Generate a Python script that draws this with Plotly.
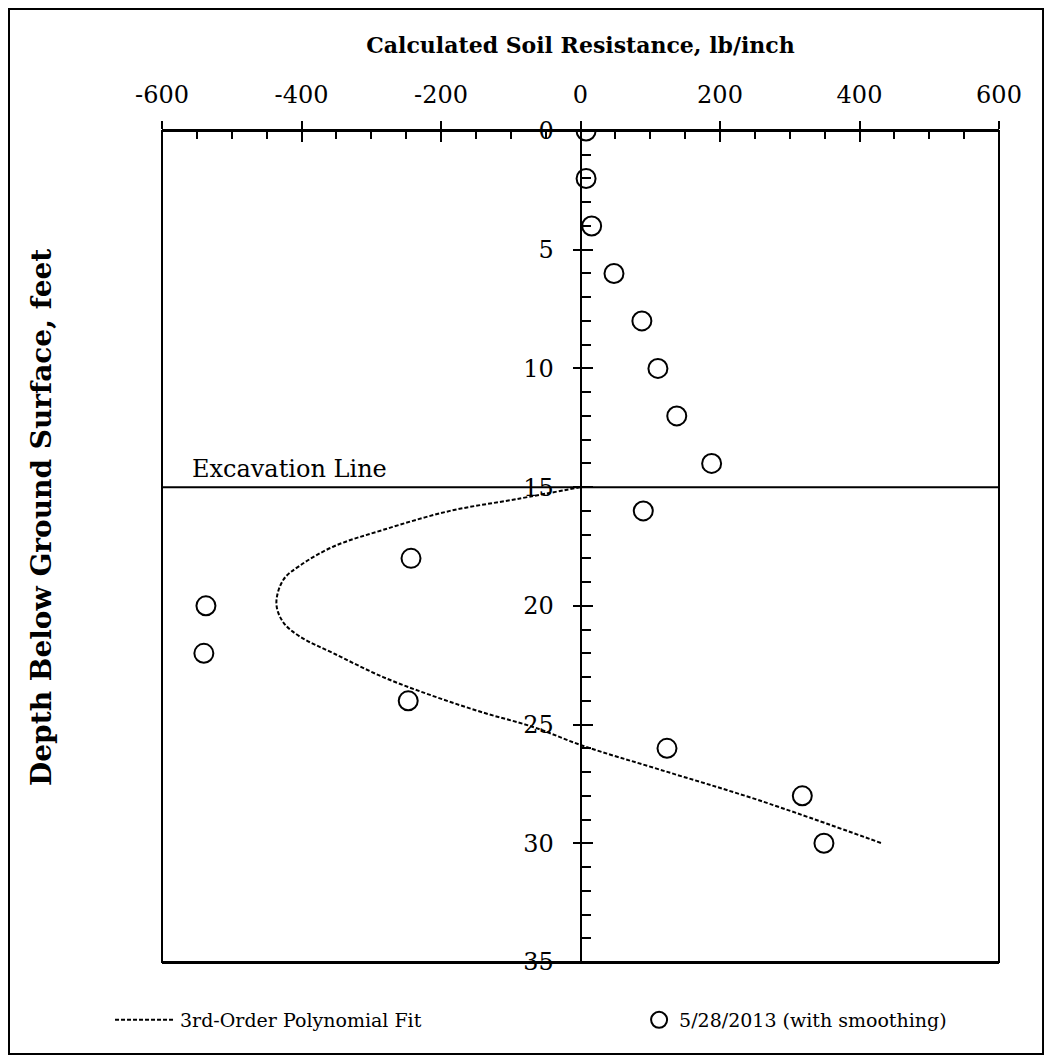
import plotly.graph_objects as go

# Measured points (5/28/2013, with smoothing)
DEPTH_FT = [0, 2, 4, 6, 8, 10, 12, 14, 16, 18, 20, 22, 24, 26, 28, 30]
RESISTANCE = [8, 8, 16, 48, 88, 111, 138, 188, 90, -243, -537, -540, -247, 124, 318, 349]

# 3rd-order polynomial fit
FIT_DEPTH = [15.0, 15.5, 16.0, 16.8, 17.5, 18.3, 18.9, 19.9, 20.7, 21.3, 22.0,
             23.0, 23.8, 24.5, 25.1, 25.9, 26.9, 28.2, 30.0]
FIT_RESISTANCE = [0, -91, -187, -283, -354, -402, -426, -436, -426, -402, -354,
                  -283, -211, -139, -68, 4, 114, 257, 432]

EXCAVATION_DEPTH = 15
X_RANGE = [-600, 600]
X_MAJOR = [-600, -400, -200, 0, 200, 400, 600]
X_TICK_LABELS = ["-600", "-400", "-200", "0", "200", "400", "600"]
Y_RANGE = [35, 0]
Y_MAJOR = [0, 5, 10, 15, 20, 25, 30, 35]

FONT = "DejaVu Serif, serif"
INK = "black"

fig = go.Figure()

fig.add_trace(go.Scatter(
    x=FIT_RESISTANCE, y=FIT_DEPTH,
    mode="lines",
    line=dict(color=INK, width=2, dash="4px,2px", shape="spline"),
    name="3rd-Order Polynomial Fit",
    legend="legend",
))
fig.add_trace(go.Scatter(
    x=RESISTANCE, y=DEPTH_FT,
    mode="markers",
    marker=dict(symbol="circle-open", size=19, color=INK, line=dict(width=2, color=INK)),
    name="5/28/2013 (with smoothing)",
    legend="legend2",
))
# empty trace so the overlay axes (inner half of the major ticks) get drawn
fig.add_trace(go.Scatter(x=[], y=[], xaxis="x2", yaxis="y2",
                         showlegend=False, hoverinfo="skip"))

fig.add_hline(y=EXCAVATION_DEPTH, line=dict(color=INK, width=2))
fig.add_annotation(
    text="Excavation Line", xref="paper", yref="y", x=0.033, y=EXCAVATION_DEPTH,
    xanchor="left", yanchor="bottom", showarrow=False, yshift=2,
    font=dict(family=FONT, size=24, color=INK),
)
fig.add_annotation(
    text="<b>Depth Below Ground Surface, feet</b>", xref="paper", yref="paper",
    x=-0.1434, y=0.5355, xanchor="center", yanchor="middle",
    textangle=-90, showarrow=False,
    font=dict(family=FONT, size=28, color=INK),
)

# plot frame and outer frame round the whole picture
fig.add_shape(type="rect", xref="x domain", yref="y domain",
              x0=0, x1=1, y0=0, y1=1, line=dict(color=INK, width=2))
fig.add_shape(type="rect", xref="paper", yref="paper",
              x0=-0.1828, x1=1.0526, y0=-0.1107, y1=1.1468,
              line=dict(color=INK, width=2))

tickfont = dict(family=FONT, size=24, color=INK)
legend_font = dict(family=FONT, size=19, color=INK)

fig.update_layout(
    width=1036, height=1047,
    margin=dict(l=154, r=45, t=123, b=93, autoexpand=False),
    paper_bgcolor="white", plot_bgcolor="white",
    font=dict(family=FONT, color=INK),
    showlegend=True,
    legend=dict(x=-0.0621, xanchor="left", y=-0.0698, yanchor="middle",
                itemwidth=60, font=legend_font, bgcolor="rgba(0,0,0,0)"),
    legend2=dict(x=0.570, xanchor="left", y=-0.0698, yanchor="middle",
                 font=legend_font, bgcolor="rgba(0,0,0,0)"),
    xaxis=dict(
        range=X_RANGE, side="top", anchor="y",
        tickvals=X_MAJOR, ticktext=X_TICK_LABELS,
        ticks="outside", ticklen=8, tickwidth=2, tickcolor=INK,
        minor=dict(dtick=50, ticks="inside", ticklen=8, tickwidth=2, tickcolor=INK),
        showline=True, linewidth=2, linecolor=INK, mirror=True,
        showgrid=False, zeroline=False,
        tickfont=tickfont, ticklabelstandoff=8,
        title=dict(text="<b>Calculated Soil Resistance, lb/inch</b>",
                   font=dict(family=FONT, size=22, color=INK), standoff=22),
    ),
    xaxis2=dict(
        range=X_RANGE, overlaying="x", side="top", anchor="y2",
        tickvals=X_MAJOR, ticks="inside", ticklen=11, tickwidth=2, tickcolor=INK,
        showticklabels=False, showline=False, showgrid=False, zeroline=False,
    ),
    yaxis=dict(
        range=Y_RANGE, anchor="free", position=0.5, side="left",
        tickvals=Y_MAJOR, ticks="outside", ticklen=7, tickwidth=2, tickcolor=INK,
        minor=dict(dtick=1, ticks="inside", ticklen=9, tickwidth=2, tickcolor=INK),
        showline=True, linewidth=2, linecolor=INK,
        showgrid=False, zeroline=False,
        tickfont=tickfont, ticklabelstandoff=14,
    ),
    yaxis2=dict(
        range=Y_RANGE, overlaying="y", anchor="free", position=0.5, side="left",
        tickvals=Y_MAJOR, ticks="inside", ticklen=11, tickwidth=2, tickcolor=INK,
        showticklabels=False, showline=False, showgrid=False, zeroline=False,
    ),
)

fig.write_html("out.html")
